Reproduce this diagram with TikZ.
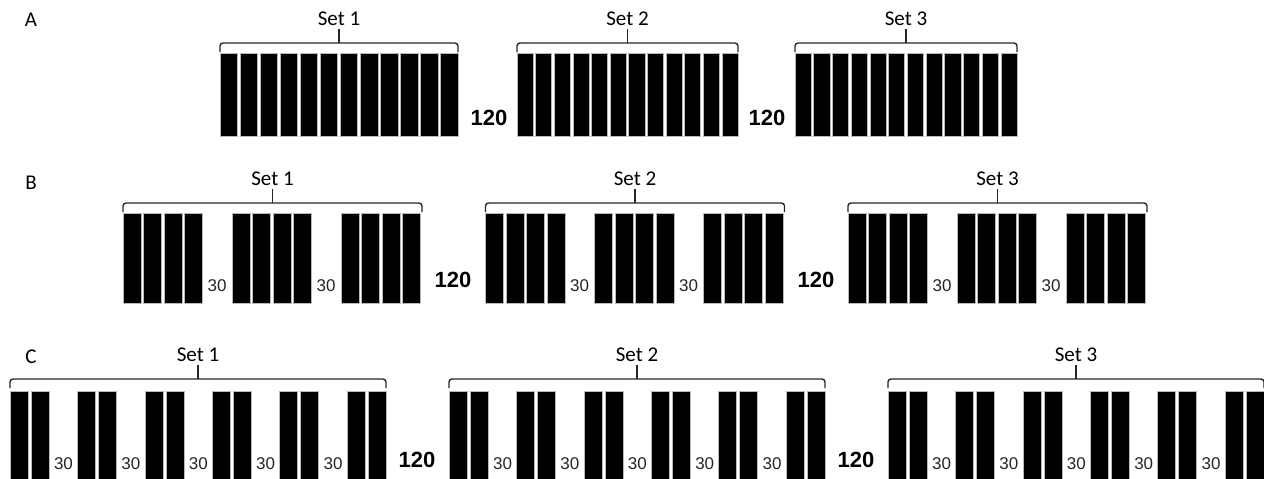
\documentclass[tikz,border=0pt]{standalone}
\usepackage{fontspec}
\setmainfont{Carlito}
\newfontfamily\numfont{Liberation Sans}
\usetikzlibrary{positioning}

% brace over one set: left x, right x, brace y, node name, set number
\newcommand\setbrace[5]{%
  \draw[brace] (#1,#3+9) -- (#1,#3) -- (#2,#3) -- (#2,#3+9);
  \draw[brace, rounded corners=0pt] ({(#1+#2)/2},#3) -- ({(#1+#2)/2},#3-14) node[setlabel] (#4) {Set #5};}

\begin{document}
\begin{tikzpicture}[x=1pt, y=-1pt,
  bar/.style={fill=black, draw=gray!55, line width=0.6pt},
  brace/.style={draw=black!85, line width=1.4pt, rounded corners=3pt},
  setlabel/.style={anchor=south, inner sep=3pt, font=\fontsize{21}{24}\selectfont},
  panel/.style={font=\fontsize{21}{24}\selectfont},
  shortrest/.style={font=\numfont\fontsize{17}{20}\selectfont, text=black!85, inner sep=0pt},
  longrest/.style={font=\numfont\bfseries\fontsize{22}{26}\selectfont, inner sep=0pt}]
\useasboundingbox (0,0) rectangle (1264,479);
\node[panel] (pA) at (31,20) {A}; \node[panel] (pB) at (31,183) {B}; \node[panel] (pC) at (31,357) {C};
% A: 12 bars in a row
\foreach \s/\e [count=\k] in {220/458, 517/738, 795/1017} {
  \pgfmathsetmacro\w{(\e-\s-11*2.5)/12}
  \foreach \i in {0,...,11} \draw[bar] ({\s+\i*(\w+2.5)},53) rectangle ++(\w,83);
  \setbrace{\s}{\e}{43}{setA\k}{\k}
}
\node[longrest] (longA1) at (489,118) {120}; \node[longrest] (longA2) at (767,118) {120};
% B: 3 x 4 bars, 30 between
\foreach \s [count=\k] in {123, 485.5, 848} {
  \foreach \g in {0,1,2} \foreach \i in {0,...,3}
    \draw[bar] ({\s+\g*109+\i*20.5},213) rectangle ++(18,90);
  \foreach \g in {0,1} \node[shortrest] (restB\k\g) at ({\s+\g*109+94},286) {30};
  \setbrace{\s}{\s+299}{203}{setB\k}{\k}
}
\node[longrest] (longB1) at (453,280) {120}; \node[longrest] (longB2) at (816,280) {120};
% C: 6 x 2 bars, 30 between
\foreach \s [count=\k] in {10, 449, 888} {
  \foreach \g in {0,...,5} \foreach \i in {0,1}
    \draw[bar] ({\s+\g*67.4+\i*21},391) rectangle ++(18,95);
  \foreach \g in {0,...,4} \node[shortrest] (restC\k\g) at ({\s+\g*67.4+53.5},463.5) {30};
  \setbrace{\s}{\s+376}{379}{setC\k}{\k}
}
\node[longrest] (longC1) at (417,460) {120}; \node[longrest] (longC2) at (856,460) {120};
\end{tikzpicture}
\end{document}
